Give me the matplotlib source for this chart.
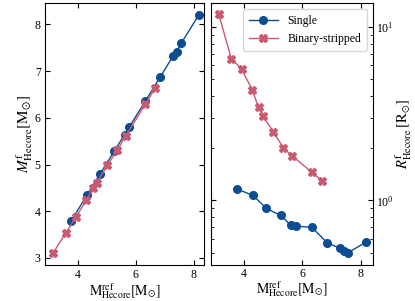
import matplotlib
matplotlib.use("Agg")
import matplotlib.pyplot as plt

plt.rcParams['font.family'] = 'serif'
plt.rcParams['font.serif'] = ['Liberation Serif', 'DejaVu Serif']
plt.rcParams['mathtext.fontset'] = 'stix'
plt.rcParams['font.size'] = 8

# Single stars
single_mref = [3.77, 4.32, 4.77, 5.26, 5.61, 5.78, 6.33, 6.85, 7.29, 7.41, 7.57, 8.18]
single_mf = [3.79, 4.35, 4.80, 5.29, 5.64, 5.81, 6.36, 6.88, 7.33, 7.42, 7.60, 8.21]
single_rf = [1.16, 1.07, 0.90, 0.82, 0.72, 0.71, 0.70, 0.57, 0.53, 0.51, 0.50, 0.575]

# Binary-stripped stars
binary_mref = [3.15, 3.58, 3.93, 4.29, 4.51, 4.65, 5.02, 5.36, 5.65, 6.33, 6.66]
binary_mf = [3.11, 3.53, 3.87, 4.23, 4.49, 4.61, 4.98, 5.31, 5.61, 6.29, 6.63]
binary_rf = [11.8, 6.56, 5.70, 4.35, 3.43, 3.07, 2.48, 2.00, 1.81, 1.45, 1.30]

c_single = '#0b4c92'
c_binary = '#c95a70'

fig = plt.figure(figsize=(4.15, 3.01), dpi=100)
ax1 = fig.add_axes([0.108, 0.120, 0.384, 0.870])
ax2 = fig.add_axes([0.508, 0.120, 0.391, 0.870])

for ax in (ax1, ax2):
    ax.tick_params(direction='in', top=True, right=True, which='both',
                   labelsize=8.5, pad=3)

ax1.plot(single_mref, single_mf, color=c_single, lw=1, marker='o', ms=5.5,
         label='Single')
ax1.plot(binary_mref, binary_mf, color=c_binary, lw=1, marker='X', ms=5.5,
         label='Binary-stripped')
ax1.set_xlim(2.86, 8.36)
ax1.set_ylim(2.85, 8.46)
ax1.set_xticks([4, 6, 8])
ax1.set_yticks([3, 4, 5, 6, 7, 8])
ax1.set_xlabel(r'${\rm M}^{\rm ref}_{\rm Hecore}[{\rm M}_{\odot}]$', fontsize=10, labelpad=0)
ax1.set_ylabel(r'$M^{\rm f}_{\rm Hecore}[{\rm M}_{\odot}]$', fontsize=11, labelpad=0)

ax2.plot(single_mref, single_rf, color=c_single, lw=1, marker='o', ms=5.5,
         label='Single')
ax2.plot(binary_mref, binary_rf, color=c_binary, lw=1, marker='X', ms=5.5,
         label='Binary-stripped')
ax2.set_yscale('log')
ax2.set_xlim(2.88, 8.42)
ax2.set_ylim(0.425, 13.7)
ax2.set_xticks([4, 6, 8])
ax2.yaxis.tick_right()
ax2.tick_params(which='both', left=True, right=True, labelleft=False, labelright=True,
                pad=2)
ax2.yaxis.set_label_position('right')
ax2.set_xlabel(r'${\rm M}^{\rm ref}_{\rm Hecore}[{\rm M}_{\odot}]$', fontsize=10, labelpad=0)
ax2.set_ylabel(r'$R^{\rm f}_{\rm Hecore}\,[{\rm R}_{\odot}]$', fontsize=10.5, labelpad=0)
ax2.legend(loc='upper right', fontsize=8.5, framealpha=0.8, borderpad=0.5,
           handlelength=2.5, labelspacing=0.5)

fig.savefig('out.png', dpi=100, facecolor='white')
